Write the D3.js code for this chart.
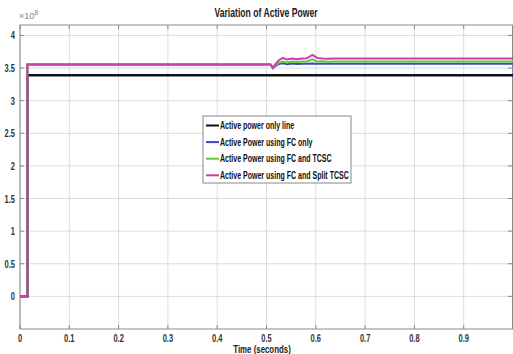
<!DOCTYPE html>
<html>
<head>
<meta charset="utf-8">
<script src="https://cdn.jsdelivr.net/npm/d3@7"></script>
<style>
  body { margin: 0; background: #fff; }
  svg { display: block; font-family: "Liberation Sans", Arial, sans-serif; }
</style>
</head>
<body>
<svg id="chart"></svg>
<script>
// Values in units of 1e8 W, time in seconds
const xTicks = [0, 0.1, 0.2, 0.3, 0.4, 0.5, 0.6, 0.7, 0.8, 0.9];
const yTicks = [0, 0.5, 1, 1.5, 2, 2.5, 3, 3.5, 4];

const timeOnlyLine = [0, 0.015, 0.015, 1];
const powerOnlyLine = [0, 0, 3.39, 3.39];

const timeComp = [0, 0.015, 0.015, 0.508, 0.513, 0.518, 0.525, 0.533, 0.542, 0.552, 0.562, 0.572, 0.582, 0.593, 0.603, 0.613, 0.625, 0.64, 0.66, 1];
const powerFC = [0, 0, 3.555, 3.555, 3.50, 3.53, 3.56, 3.575, 3.56, 3.568, 3.562, 3.566, 3.565, 3.57, 3.565, 3.566, 3.565, 3.565, 3.565, 3.565];
const powerFCTCSC = [0, 0, 3.555, 3.555, 3.50, 3.54, 3.58, 3.60, 3.585, 3.60, 3.592, 3.60, 3.60, 3.635, 3.60, 3.605, 3.598, 3.60, 3.60, 3.60];
const powerSplit = [0, 0, 3.555, 3.555, 3.50, 3.56, 3.62, 3.655, 3.63, 3.645, 3.635, 3.645, 3.65, 3.70, 3.655, 3.648, 3.644, 3.646, 3.645, 3.645];

const seriesNames = ['Active power only line', 'Active Power using FC only', 'Active Power using FC and TCSC', 'Active Power using FC and Split TCSC'];
const seriesColors = ['#111111', '#3d45c8', '#5ccc36', '#d03cae'];

const W = 513, H = 354;
const margin = { top: 25, right: 0, bottom: 23, left: 20 };
const svg = d3.select('#chart').attr('width', W).attr('height', H);

const x = d3.scaleLinear().domain([0, 1]).range([margin.left, W - margin.right]);
const y = d3.scaleLinear().domain([-0.5, 4.16]).range([H - margin.bottom - 2, margin.top]);
const yBottom = H - margin.bottom - 2;

// Condensed text: the reference uses a narrow face, so squeeze horizontally
function narrow(parent, tx, ty, str, opts) {
  const sx = opts.sx || 0.75;
  return parent.append('text')
    .attr('transform', `translate(${tx},${ty}) scale(${sx},1)`)
    .attr('text-anchor', opts.anchor || 'start')
    .attr('font-size', opts.size || '10px')
    .attr('font-weight', opts.weight || 'normal')
    .attr('fill', opts.fill || '#222')
    .text(str);
}

// Grid
svg.append('g').selectAll('line').data(xTicks.concat([1])).join('line')
  .attr('x1', d => x(d)).attr('x2', d => x(d))
  .attr('y1', margin.top).attr('y2', yBottom)
  .attr('stroke', '#dcdcdc').attr('stroke-width', 1);
svg.append('g').selectAll('line').data(yTicks).join('line')
  .attr('x1', margin.left).attr('x2', W)
  .attr('y1', d => y(d)).attr('y2', d => y(d))
  .attr('stroke', '#dcdcdc').attr('stroke-width', 1);

// Axes box
svg.append('rect')
  .attr('x', margin.left).attr('y', margin.top)
  .attr('width', W - margin.left - 0.5).attr('height', yBottom - margin.top)
  .attr('fill', 'none').attr('stroke', '#8a8a8a').attr('stroke-width', 1);

// Inward ticks
const ticksG = svg.append('g').attr('stroke', '#8a8a8a');
xTicks.forEach(d => {
  ticksG.append('line').attr('x1', x(d)).attr('x2', x(d)).attr('y1', yBottom).attr('y2', yBottom - 4);
  ticksG.append('line').attr('x1', x(d)).attr('x2', x(d)).attr('y1', margin.top).attr('y2', margin.top + 4);
});
yTicks.forEach(d => {
  ticksG.append('line').attr('x1', margin.left).attr('x2', margin.left + 4).attr('y1', y(d)).attr('y2', y(d));
  ticksG.append('line').attr('x1', W - 1).attr('x2', W - 5).attr('y1', y(d)).attr('y2', y(d));
});

// Tick labels
const tl = svg.append('g');
xTicks.forEach(d => narrow(tl, x(d), H - 12, d, { anchor: 'middle', size: '10px', weight: 'bold', fill: '#333' }));
yTicks.forEach(d => narrow(tl, margin.left - 5, y(d) + 4, d, { anchor: 'end', size: '10px', weight: 'bold', fill: '#333' }));

// Exponent
const ex = svg.append('text').attr('x', 19).attr('y', 19).attr('font-size', '9px').attr('fill', '#888');
ex.append('tspan').text('\u00d710');
ex.append('tspan').attr('dy', -4).attr('font-size', '7px').text('8');

// Title and x label
narrow(svg, 266, 17, 'Variation of Active Power', { anchor: 'middle', size: '12px', weight: 'bold', fill: '#222', sx: 0.72 });
narrow(svg, 262, 353, 'Time (seconds)', { anchor: 'middle', size: '10.5px', weight: 'bold', fill: '#222', sx: 0.75 });

// Lines
const line = d3.line().x(d => x(d[0])).y(d => y(d[1]));
const seriesData = [
  d3.zip(timeOnlyLine, powerOnlyLine),
  d3.zip(timeComp, powerFC),
  d3.zip(timeComp, powerFCTCSC),
  d3.zip(timeComp, powerSplit)
];
seriesData.forEach((s, i) => {
  svg.append('path').datum(s)
    .attr('d', line)
    .attr('fill', 'none')
    .attr('stroke', seriesColors[i])
    .attr('stroke-width', i === 0 ? 2.4 : 2);
});

// Legend
const lg = svg.append('g').attr('transform', 'translate(203,116)');
lg.append('rect').attr('width', 148).attr('height', 67)
  .attr('fill', '#fff').attr('stroke', '#888').attr('stroke-width', 1);
seriesNames.forEach((name, i) => {
  const ly = 9.5 + i * 16.6;
  lg.append('line').attr('x1', 3).attr('x2', 16).attr('y1', ly).attr('y2', ly)
    .attr('stroke', seriesColors[i]).attr('stroke-width', 2);
  narrow(lg, 17, ly + 3.5, name, { size: '10.5px', weight: 'bold', fill: '#111', sx: 0.67 });
});
</script>
</body>
</html>
